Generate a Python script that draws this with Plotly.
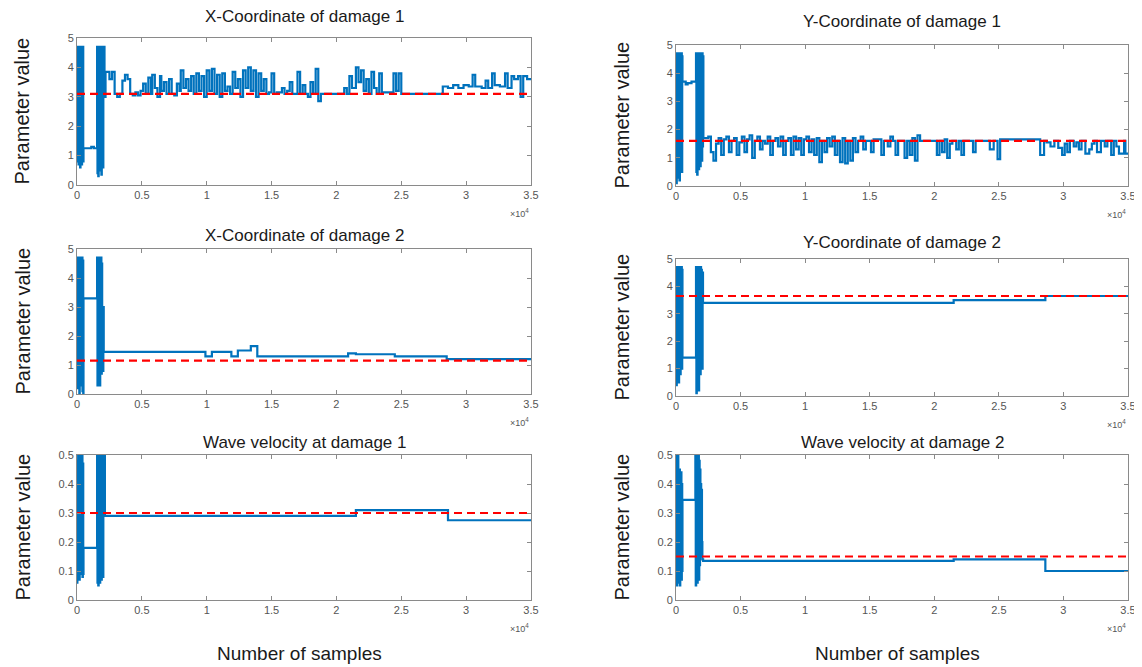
import plotly.graph_objects as go
from plotly.subplots import make_subplots

# page body has an 8px margin, so the figure is drawn 8px in from the window edge
OFF = 8
W, H = 1142 - OFF, 667 - OFF

# ---------------- data ----------------
titles = ["X-Coordinate of damage 1", "Y-Coordinate of damage 1",
          "X-Coordinate of damage 2", "Y-Coordinate of damage 2",
          "Wave velocity at damage 1", "Wave velocity at damage 2"]
true_values = [3.1, 1.6, 1.15, 3.65, 0.3, 0.15]
x_tick_vals = [0, 5000, 10000, 15000, 20000, 25000, 30000, 35000]
x_tick_text = ["0", "0.5", "1", "1.5", "2", "2.5", "3", "3.5"]
y_ticks_coord = [0, 1, 2, 3, 4, 5]
y_ticks_vel = [0, 0.1, 0.2, 0.3, 0.4, 0.5]

# X-coordinate of damage 1
x1_samples = ([0, 30, 60, 90, 120, 150, 180, 210, 240, 270, 300, 330, 360, 390, 420, 450, 480]
              + [500, 1100, 1300]
              + [1550, 1580, 1610, 1640, 1670, 1700, 1730, 1760, 1790, 1820, 1850, 1880, 1910, 1940,
                 1970, 2000, 2030, 2060, 2090, 2120]
              + [2200, 2500, 2700, 2900, 3100, 3300, 3500, 3700, 3900, 4100, 4300, 4500, 4700, 4900,
                 5100, 5300, 5500, 5700, 5800, 6000, 6200, 6400, 6500, 6700, 6900, 7100, 7300, 7500,
                 7700, 7900, 8000, 8200, 8400, 8600, 8800, 9000, 9200, 9400, 9600, 9800, 10000,
                 10200, 10400, 10600, 10800, 11000, 11200, 11400, 11600, 11800, 12000, 12200, 12400,
                 12600, 12800, 13000, 13200, 13400, 13600, 13800, 14000, 14200, 14400, 14600, 14800,
                 15000, 15200, 15400, 15800, 16000, 16200, 16400, 16600, 17000, 17200, 17400,
                 17600, 17800, 18000, 18200, 18400, 18600, 18800, 20600, 20800, 21000, 21200,
                 21500, 21700, 21900, 22100, 22300, 22500, 22700, 22900, 23100, 23300, 23500,
                 24400, 24600, 24800, 25000, 28200, 28600, 29000, 29400, 29800, 30200, 30500,
                 30700, 31200, 31500, 31700, 32000, 32200, 32600, 33000, 33200, 33500, 33700,
                 34000, 34200, 34400, 34700, 35000])
x1_values = ([3.0, 4.7, 0.8, 4.6, 0.7, 4.7, 1.0, 4.5, 0.6, 4.7, 0.9, 4.6, 0.7, 4.2, 1.1, 4.7, 0.8]
             + [1.25, 1.3, 1.25]
             + [4.7, 0.4, 4.6, 0.3, 4.7, 0.6, 4.5, 0.5, 4.7, 0.8, 4.6, 0.35, 4.7, 1.0, 4.7, 0.6,
                4.6, 3.1, 4.7, 3.0]
             + [3.85, 3.6, 3.85, 3.1, 3.0, 3.1, 3.55, 3.75, 3.6, 3.1, 3.05, 3.15, 3.05, 3.2, 3.45,
                3.1, 3.65, 3.1, 3.75, 3.3, 3.0, 3.7, 3.2, 3.5, 3.1, 3.6, 3.1, 3.05, 3.45, 3.2, 3.9,
                3.3, 3.6, 3.2, 3.7, 3.1, 3.8, 3.2, 3.7, 3.0, 3.9, 3.2, 3.95, 3.1, 3.75, 3.0, 3.8,
                3.2, 3.35, 3.1, 3.85, 3.3, 3.6, 3.0, 3.9, 3.3, 4.0, 3.2, 3.9, 3.0, 3.8, 3.2, 3.6,
                3.1, 3.15, 3.8, 3.1, 3.15, 3.3, 3.1, 3.2, 3.5, 3.1, 3.85, 3.1, 3.4, 3.1, 3.0, 3.5,
                3.1, 3.95, 2.85, 3.1, 3.3, 3.1, 3.7, 3.3, 4.0, 3.5, 3.9, 3.2, 3.6, 3.1, 3.85, 3.3,
                3.1, 3.8, 3.15, 3.8, 3.2, 3.8, 3.1, 3.35, 3.3, 3.4, 3.3, 3.4, 3.35, 3.75, 3.35,
                3.3, 3.55, 3.3, 3.8, 3.4, 3.35, 3.8, 3.3, 3.7, 3.6, 3.7, 3.0, 3.7, 3.6, 3.6])

# Y-coordinate of damage 1
y1_samples = ([0, 30, 60, 90, 120, 150, 180, 210, 240, 270, 300, 330, 360, 390, 420, 450, 480]
              + [500, 750, 900, 1200]
              + [1550, 1580, 1610, 1640, 1670, 1700, 1730, 1760, 1790, 1820, 1850, 1880, 1910, 1940,
                 1970, 2000, 2030, 2060, 2090, 2120]
              + [2200, 2500, 2700, 2900, 3100, 3300, 3500, 3700, 3900, 4100, 4300, 4500, 4700, 4900,
                 5100, 5300, 5500, 5700, 5900, 6100, 6300, 6500, 6700, 6900, 7100, 7300, 7500, 7700,
                 7900, 8100, 8300, 8500, 8700, 8900, 9100, 9300, 9500, 9700, 9900, 10100, 10300,
                 10500, 10700, 10900, 11100, 11300, 11500, 11700, 11900, 12100, 12300, 12500,
                 12700, 12900, 13100, 13300, 13500, 13700, 13900, 14100, 14300, 14500, 14700,
                 15100, 15300, 15900, 16100, 16400, 16600, 16800, 17000, 17200, 17700, 17900,
                 18100, 18300, 18500, 18700, 18900, 20200, 20400, 20600, 20800, 21000, 21200,
                 21400, 21700, 21900, 22100, 22300, 23000, 23200, 24300, 24600, 24900, 25100,
                 28200, 28500, 28700, 29000, 29300, 29600, 29900, 30100, 30300, 30500, 30800,
                 31000, 31200, 31400, 31700, 32000, 32200, 32400, 32600, 32900, 33200, 33400,
                 33700, 33900, 34100, 34300, 34700, 34800, 35000])
y1_values = ([4.0, 0.1, 4.7, 0.5, 4.6, 0.3, 4.7, 0.8, 4.5, 0.2, 4.7, 0.6, 4.6, 1.0, 4.7, 0.5, 4.6]
             + [3.7, 3.6, 3.65, 3.7]
             + [4.7, 0.5, 4.6, 0.4, 4.7, 0.8, 4.5, 0.6, 4.7, 1.0, 4.6, 0.7, 4.7, 1.2, 4.5, 0.9,
                4.7, 1.4, 4.6, 1.7]
             + [1.7, 1.75, 1.2, 0.9, 1.5, 1.7, 1.1, 1.65, 1.75, 1.2, 1.6, 1.7, 1.1, 1.55, 1.75, 1.2,
                1.65, 1.8, 1.0, 1.6, 1.75, 1.3, 1.6, 1.5, 1.75, 1.1, 1.6, 1.7, 1.4, 1.75, 1.1, 1.6,
                1.7, 1.1, 1.75, 1.3, 1.7, 1.1, 1.65, 1.75, 1.2, 1.65, 1.1, 1.7, 0.85, 1.6, 1.2, 1.7,
                1.4, 1.75, 1.1, 1.6, 0.85, 1.7, 0.8, 1.6, 0.9, 1.7, 1.2, 1.6, 1.75, 1.3, 1.6, 1.2,
                1.65, 1.1, 1.6, 1.4, 1.75, 1.6, 1.1, 1.6, 1.0, 1.6, 1.1, 1.7, 0.9, 1.8, 1.6, 1.1,
                1.6, 1.2, 1.65, 1.0, 1.5, 1.6, 1.3, 1.6, 1.1, 1.6, 1.2, 1.6, 1.3, 1.6, 0.95, 1.65,
                1.1, 1.6, 1.55, 1.4, 1.6, 1.35, 1.1, 1.5, 1.2, 1.6, 1.4, 1.55, 1.3, 1.6, 1.15, 1.3,
                1.5, 1.6, 1.2, 1.6, 1.4, 1.6, 1.1, 1.6, 1.4, 1.15, 1.6, 1.15, 1.15])

# X-coordinate of damage 2
x2_samples = ([0, 30, 60, 90, 120, 150, 180, 210, 240, 270, 300, 330, 360, 390, 420, 450, 480]
              + [500]
              + [1550, 1580, 1610, 1640, 1670, 1700, 1730, 1760, 1790, 1820, 1850, 1880, 1910, 1940,
                 1970, 2000, 2030, 2060]
              + [2150, 9900, 10400, 11900, 12400, 13400, 13900, 20900, 21500, 24500, 28500, 35000])
x2_values = ([0.5, 4.7, 0.2, 4.6, 0.3, 4.7, 0.0, 4.6, 0.5, 4.7, 0.3, 4.6, 0.8, 4.7, 0.1, 4.6, 0.0]
             + [3.3]
             + [4.7, 0.3, 4.7, 0.5, 4.6, 0.8, 4.7, 0.3, 4.6, 1.0, 4.7, 0.7, 4.5, 1.4, 3.0, 0.8, 3.0,
                1.45]
             + [1.45, 1.3, 1.45, 1.3, 1.5, 1.65, 1.3, 1.4, 1.37, 1.3, 1.2, 1.2])

# Y-coordinate of damage 2
y2_samples = ([0, 30, 60, 90, 120, 150, 180, 210, 240, 270, 300, 330, 360, 390, 420, 450, 480]
              + [500]
              + [1550, 1580, 1610, 1640, 1670, 1700, 1730, 1760, 1790, 1820, 1850, 1880, 1910, 1940,
                 1970, 2000, 2030, 2060, 2090]
              + [2150, 21500, 28600, 35000])
y2_values = ([4.7, 0.4, 4.6, 0.6, 4.7, 1.0, 4.5, 0.5, 4.6, 1.2, 4.7, 0.8, 4.6, 1.4, 4.7, 1.0, 4.6]
             + [1.4]
             + [4.7, 0.1, 4.6, 0.3, 4.7, 1.0, 4.5, 0.2, 4.7, 1.2, 4.6, 0.8, 4.7, 1.0, 4.6, 3.9, 1.0,
                4.5, 3.4]
             + [3.4, 3.5, 3.65, 3.65])

# Wave velocity at damage 1
v1_samples = ([0, 30, 60, 90, 120, 150, 180, 210, 240, 270, 300, 330, 360, 390, 420, 450, 480]
              + [500]
              + [1550, 1580, 1610, 1640, 1670, 1700, 1730, 1760, 1790, 1820, 1850, 1880, 1910, 1940,
                 1970, 2000, 2030, 2060, 2090]
              + [2150, 21500, 28600, 35000])
v1_values = ([0.06, 0.48, 0.08, 0.5, 0.1, 0.47, 0.07, 0.49, 0.12, 0.5, 0.09, 0.48, 0.1, 0.5, 0.08,
              0.47, 0.09]
             + [0.18]
             + [0.5, 0.06, 0.49, 0.05, 0.5, 0.08, 0.47, 0.06, 0.5, 0.1, 0.48, 0.07, 0.5, 0.12, 0.49,
                0.08, 0.48, 0.3, 0.5]
             + [0.29, 0.31, 0.275, 0.275])

# Wave velocity at damage 2
v2_samples = ([0, 30, 60, 90, 120, 150, 180, 210, 240, 270, 300, 330, 360, 390, 420, 450, 480]
              + [500]
              + [1500, 1530, 1560, 1590, 1620, 1650, 1680, 1710, 1740, 1770, 1800, 1830, 1860, 1890,
                 1920, 1950, 1980, 2010, 2040]
              + [2100, 21500, 28600, 35000])
v2_values = ([0.2, 0.5, 0.05, 0.48, 0.08, 0.5, 0.06, 0.44, 0.1, 0.45, 0.05, 0.42, 0.12, 0.44, 0.07,
              0.4, 0.1]
             + [0.345]
             + [0.5, 0.05, 0.48, 0.08, 0.5, 0.06, 0.45, 0.1, 0.5, 0.07, 0.48, 0.12, 0.45, 0.2, 0.4,
                0.15, 0.38, 0.2, 0.14]
             + [0.135, 0.14, 0.1, 0.1])

chains = [(x1_samples, x1_values), (y1_samples, y1_values),
          (x2_samples, x2_values), (y2_samples, y2_values),
          (v1_samples, v1_values), (v2_samples, v2_values)]

# ---------------- layout geometry (window pixels) ----------------
def px_x(p):
    return (p - OFF) / W

def px_y(p):
    return 1 - (p - OFF) / H

col_px = [(77, 531), (676, 1128)]
row_px = [[(38, 185), (45, 186)],
          [(249, 394), (259, 396)],
          [(455, 600), (455, 600)]]
title_y_px = [[17, 22], [235, 242], [442, 442]]

BLUE = "#0072BD"
RED = "#FF0000"
AXIS = "#8a8a8a"
TICKC = "#555555"
FONT = "Liberation Sans, Arial, sans-serif"

fig = make_subplots(rows=3, cols=2)

annotations = []
for i in range(6):
    r, c = i // 2, i % 2
    s, v = chains[i]
    fig.add_trace(go.Scatter(x=s, y=v, mode="lines", line=dict(color=BLUE, width=2.2, shape="hv"),
                             showlegend=False, hoverinfo="skip"), row=r + 1, col=c + 1)
    fig.add_trace(go.Scatter(x=[0, 35000], y=[true_values[i]] * 2, mode="lines",
                             line=dict(color=RED, width=2.2, dash="8px,5px"),
                             showlegend=False, hoverinfo="skip"), row=r + 1, col=c + 1)
    x0, x1 = col_px[c]
    yt, yb = row_px[r][c]
    fig.update_xaxes(domain=[px_x(x0), px_x(x1)], range=[0, 35000], tickvals=x_tick_vals,
                     ticktext=x_tick_text, ticks="inside", ticklen=4, tickcolor=AXIS,
                     showline=True, linecolor=AXIS, linewidth=1, mirror="ticks",
                     showgrid=False, zeroline=False, automargin=False,
                     tickfont=dict(family=FONT, size=11, color=TICKC), row=r + 1, col=c + 1)
    yt_vals = y_ticks_vel if r == 2 else y_ticks_coord
    fig.update_yaxes(domain=[px_y(yb), px_y(yt)], range=[yt_vals[0], yt_vals[-1]],
                     tickvals=yt_vals, ticktext=[("%g" % t) for t in yt_vals],
                     ticks="inside", ticklen=4, tickcolor=AXIS,
                     showline=True, linecolor=AXIS, linewidth=1, mirror="ticks",
                     showgrid=False, zeroline=False, automargin=False,
                     tickfont=dict(family=FONT, size=11, color=TICKC), row=r + 1, col=c + 1)
    # subplot title
    annotations.append(dict(text=titles[i], x=px_x((x0 + x1) / 2), y=px_y(title_y_px[r][c]),
                            xref="paper", yref="paper", showarrow=False,
                            xanchor="center", yanchor="middle",
                            font=dict(family=FONT, size=17, color="#1a1a1a")))
    # exponent label
    annotations.append(dict(text="\u00d710<sup>4</sup>", x=px_x(x1), y=px_y(yb + 28),
                            xref="paper", yref="paper", showarrow=False,
                            xanchor="right", yanchor="middle",
                            font=dict(family=FONT, size=9, color=TICKC)))
    # y-axis label
    annotations.append(dict(text="Parameter value", x=px_x(x0 - 55), y=px_y((yt + yb) / 2),
                            xref="paper", yref="paper", showarrow=False, textangle=-90,
                            xanchor="center", yanchor="middle",
                            font=dict(family=FONT, size=20, color="#1a1a1a")))

for c in range(2):
    x0, x1 = col_px[c]
    annotations.append(dict(text="Number of samples", x=px_x((x0 + x1) / 2 - 5), y=px_y(653),
                            xref="paper", yref="paper", showarrow=False,
                            xanchor="center", yanchor="middle",
                            font=dict(family=FONT, size=19, color="#1a1a1a")))

fig.update_layout(width=W, height=H, margin=dict(l=0, r=0, t=0, b=0, autoexpand=False),
                  paper_bgcolor="white", plot_bgcolor="white",
                  annotations=annotations, showlegend=False)

fig.write_html("out.html")
